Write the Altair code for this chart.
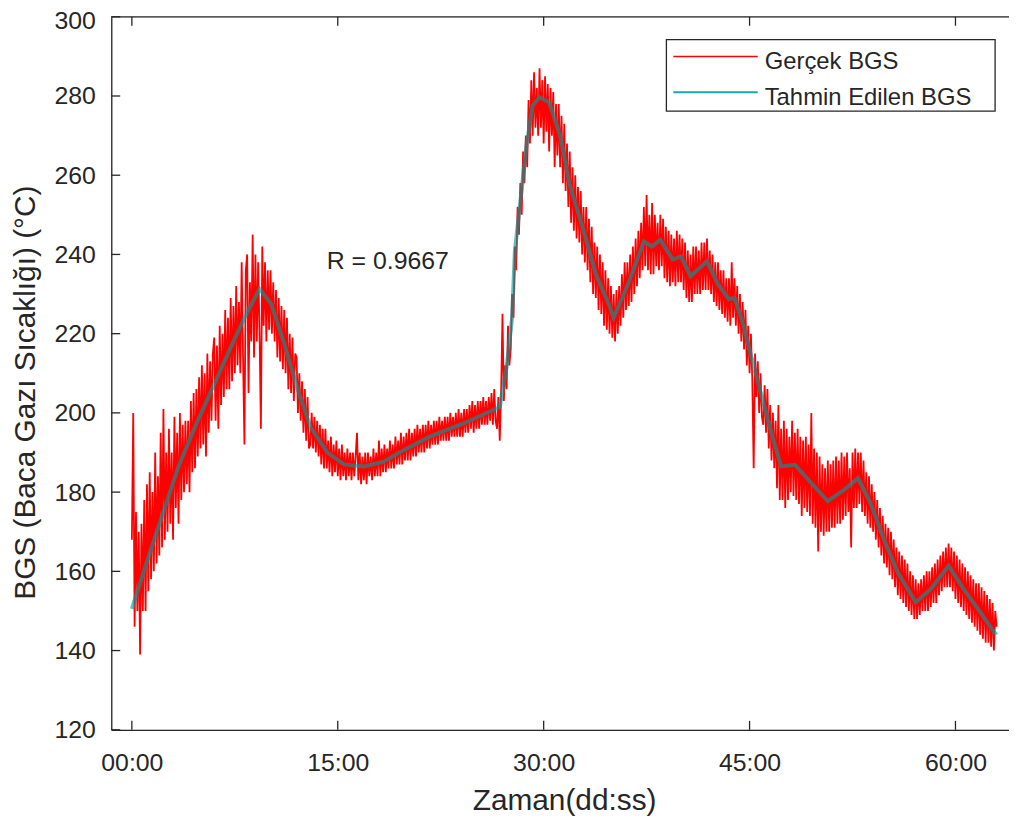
import altair as alt
import pandas as pd

# ---- data ----
# measured flue gas temperature, sampled every 0.1 min from t = 0 (one row = one minute)
GERCEK_T0 = 0.0
GERCEK_DT = 0.1
GERCEK = [
    168, 200, 146, 175, 150, 170, 139, 172, 150, 178,
    150, 182, 155, 185, 158, 180, 160, 190, 162, 184,
    164, 195, 166, 201, 168, 190, 170, 196, 172, 190,
    168, 199, 176, 195, 172, 200, 178, 197, 180, 198,
    182, 198, 180, 203, 185, 205, 186, 206, 189, 209,
    191, 212, 192, 210, 189, 215, 195, 213, 198, 215,
    219, 198, 217, 196, 222, 202, 220, 204, 226, 206,
    224, 206, 229, 208, 227, 210, 232, 212, 228, 210,
    238, 214, 192, 236, 240, 205, 233, 218, 245, 214,
    240, 218, 238, 220, 196, 242, 222, 238, 218, 236,
    221, 236, 220, 233, 218, 231, 214, 229, 213, 227,
    211, 226, 210, 224, 206, 220, 205, 219, 203, 215,
    214, 200, 210, 198, 208, 195, 206, 193, 204, 191,
    192, 200, 191, 199, 190, 198, 189, 197, 187, 196,
    186, 196, 186, 193, 185, 194, 184, 192, 185, 193,
    184, 191, 183, 192, 184, 190, 183, 191, 184, 190,
    183, 190, 184, 189, 195, 183, 190, 182, 189, 183,
    190, 182, 190, 184, 189, 183, 191, 184, 190, 184,
    193, 184, 191, 185, 192, 185, 191, 186, 193, 186,
    192, 186, 194, 187, 193, 187, 195, 187, 194, 188,
    195, 188, 196, 188, 195, 189, 196, 189, 197, 190,
    196, 190, 197, 190, 197, 191, 198, 191, 197, 192,
    198, 192, 198, 192, 199, 193, 198, 193, 199, 193,
    199, 193, 200, 194, 199, 194, 200, 194, 201, 194,
    200, 194, 201, 195, 201, 195, 202, 196, 203, 195,
    202, 196, 203, 196, 203, 197, 204, 197, 203, 197,
    204, 198, 205, 197, 206, 198, 196, 204, 193, 205,
    225, 203, 212, 206, 222, 212, 216, 230, 224, 242,
    236, 252, 245, 258, 250, 266, 258, 270, 262, 279,
    268, 284, 270, 286, 272, 282, 270, 287, 272, 284,
    268, 285, 271, 283, 266, 282, 270, 281, 262, 278,
    265, 278, 262, 275, 258, 273, 256, 268, 252, 266,
    248, 262, 246, 260, 244, 257, 243, 256, 240, 252,
    238, 252, 236, 249, 233, 247, 230, 243, 229, 242,
    226, 240, 225, 238, 222, 236, 221, 234, 220, 232,
    219, 230, 218, 231, 220, 232, 222, 235, 224, 238,
    226, 238, 227, 240, 228, 242, 230, 244, 232, 246,
    234, 248, 236, 252, 237, 255, 236, 250, 235, 253,
    235, 250, 237, 248, 236, 250, 237, 249, 234, 247,
    233, 246, 232, 245, 233, 244, 232, 246, 233, 245,
    233, 244, 231, 243, 229, 241, 228, 240, 228, 242,
    230, 242, 230, 241, 230, 243, 231, 243, 231, 244,
    231, 241, 230, 240, 228, 238, 227, 238, 226, 236,
    225, 236, 224, 234, 223, 234, 222, 238, 224, 234,
    222, 232, 220, 230, 218, 228, 216, 226, 212, 222,
    210, 220, 208, 186, 215, 204, 213, 200, 210, 199,
    197, 207, 195, 206, 191, 202, 188, 200, 186, 198,
    181, 202, 178, 196, 178, 198, 176, 196, 178, 194,
    180, 198, 179, 195, 178, 196, 177, 194, 174, 193,
    176, 194, 175, 192, 174, 200, 172, 191, 171, 190,
    165, 189, 170, 187, 169, 186, 170, 188, 170, 187,
    171, 188, 171, 189, 172, 188, 172, 190, 173, 189,
    174, 190, 175, 186, 166, 190, 176, 191, 176, 190,
    177, 190, 175, 188, 174, 185, 172, 184, 171, 182,
    170, 180, 168, 178, 166, 176, 164, 174, 162, 172,
    161, 171, 159, 170, 158, 168, 156, 166, 154, 165,
    153, 164, 152, 163, 151, 162, 150, 160, 149, 159,
    148, 158, 148, 157, 149, 158, 150, 159, 150, 160,
    150, 160, 151, 161, 152, 162, 152, 163, 154, 164,
    155, 165, 156, 166, 156, 167, 156, 166, 155, 165,
    153, 164, 152, 163, 151, 162, 150, 161, 149, 160,
    148, 159, 147, 158, 146, 157, 145, 157, 144, 156,
    143, 155, 142, 154, 142, 153, 141, 152, 140, 150,
    146,
]

# predicted flue gas temperature (minutes, degC)
TAHMIN_T = [0.0, 1.0, 2.2, 3.4, 4.6, 5.8, 7.0, 8.2, 9.3, 10.15, 11.1, 12.1,
            13.0, 14.25, 15.45, 16.9, 18.35, 19.8, 21.7, 24.2, 26.8, 27.3,
            27.7, 27.9, 28.3, 28.75, 29.2, 29.7, 30.4, 31.2, 31.9, 32.85,
            33.8, 34.8, 35.1, 36.2, 37.3, 37.9, 38.5, 39.4, 40.0, 40.7, 41.9,
            42.7, 43.5, 43.9, 44.4, 45.2, 45.9, 46.6, 47.3, 48.3, 49.5, 50.7,
            51.9, 52.9, 53.8, 54.8, 55.8, 57.1, 58.2, 59.5, 60.6, 61.8, 62.8, 63.0]
TAHMIN_V = [150.5, 161.4, 174, 186.5, 196.5, 205.7, 215, 224, 231.3, 227.5, 217.5, 205.7,
            196.5, 190, 187, 186.5, 187.7, 190.6, 194, 197.4, 201.5, 211.5,
            224, 240.8, 253.3, 267.6, 277.6, 279.7, 278.4, 270, 257.5, 246.7,
            235, 227, 224, 233, 243.3, 242, 243.7, 238.7, 239.5, 234.5, 238.3,
            232.5, 228.7, 229, 224, 213.2, 204, 194.8, 186.5, 186.9, 182.3, 177.7,
            180.6, 183.5, 177.3, 168, 159.7, 152.2, 155.5, 161.4, 155.5, 149.7, 144.7, 144]

X_TICKS = [0, 15, 30, 45, 60]
Y_TICKS = [120, 140, 160, 180, 200, 220, 240, 260, 280, 300]
LEGEND_LABELS = ["Gerçek BGS", "Tahmin Edilen BGS"]
X_TITLE = "Zaman(dd:ss)"
Y_TITLE = "BGS (Baca Gazı Sıcaklığı) (°C)"
R_TEXT = ["R = 0.9667"]
R_T = [14.2]
R_V = [236.3]

# ---- styling ----
W, H = 904, 718
FONT = "Liberation Sans"
AX = "#262626"
RED = "#ff0000"
CYAN = "#009a9a"

x_scale = alt.Scale(domain=[-1.5, 63.9], nice=False, zero=False)
y_scale = alt.Scale(domain=[120, 300], nice=False, zero=False)

gercek_df = pd.DataFrame({
    "t": [round(GERCEK_T0 + i * GERCEK_DT, 1) for i in range(len(GERCEK))],
    "v": GERCEK,
})
tahmin_df = pd.DataFrame({"t": TAHMIN_T, "v": TAHMIN_V})

x_axis = alt.Axis(
    values=X_TICKS,
    labelExpr="(datum.value < 10 ? '0' : '') + datum.value + ':00'",
    title=X_TITLE, grid=False, ticks=False,
    domainColor=AX, domainWidth=1.3,
    labelFont=FONT, labelFontSize=25, labelColor=AX, labelPadding=21,
    titleFont=FONT, titleFontSize=30, titleFontWeight="normal", titleColor=AX,
    titleX=456, titleY=80, titleBaseline="alphabetic", titleAlign="center",
)
y_axis = alt.Axis(
    values=Y_TICKS, title=Y_TITLE, grid=False, ticks=False,
    domainColor=AX, domainWidth=1.3,
    labelFont=FONT, labelFontSize=25, labelColor=AX, labelPadding=16,
    labelOffset={"condition": {"test": "datum.value == 300", "value": 4}, "value": 0},
    titleFont=FONT, titleFontSize=30, titleFontWeight="normal", titleColor=AX,
    titleX=-86, titleY=378, titleAngle=270, titleBaseline="middle", titleAlign="center",
)

gercek = alt.Chart(gercek_df).mark_line(color=RED, strokeWidth=1.8).encode(
    x=alt.X("t:Q", scale=x_scale, axis=x_axis),
    y=alt.Y("v:Q", scale=y_scale, axis=y_axis),
)
tahmin = alt.Chart(tahmin_df).mark_line(color=CYAN, opacity=0.62, strokeWidth=4).encode(
    x=alt.X("t:Q", scale=x_scale),
    y=alt.Y("v:Q", scale=y_scale),
)

xt_df = pd.DataFrame({"t": X_TICKS})
yt_df = pd.DataFrame({"v": Y_TICKS})
bottom_ticks = alt.Chart(xt_df).mark_rule(color=AX, strokeWidth=1.3).encode(
    x=alt.X("t:Q", scale=x_scale), y=alt.value(H), y2=alt.value(H - 9))
top_ticks = alt.Chart(xt_df).mark_rule(color=AX, strokeWidth=1.3).encode(
    x=alt.X("t:Q", scale=x_scale), y=alt.value(0), y2=alt.value(9))
left_ticks = alt.Chart(yt_df).mark_rule(color=AX, strokeWidth=1.3).encode(
    y=alt.Y("v:Q", scale=y_scale), x=alt.value(0), x2=alt.value(9))

one = pd.DataFrame({"k": [0]})
top_border = alt.Chart(one).mark_rule(color=AX, strokeWidth=1.3).encode(
    x=alt.value(0), x2=alt.value(W), y=alt.value(0))

r_df = pd.DataFrame({"t": R_T, "v": R_V, "s": R_TEXT})
r_text = alt.Chart(r_df).mark_text(
    align="left", baseline="alphabetic", font=FONT, fontSize=25, color=AX
).encode(x=alt.X("t:Q", scale=x_scale), y=alt.Y("v:Q", scale=y_scale), text="s:N")

# legend box (drawn by hand, top-right like the MATLAB legend)
leg_box = alt.Chart(one).mark_rect(fill="white", stroke=AX, strokeWidth=1.3).encode(
    x=alt.value(559), x2=alt.value(890), y=alt.value(23), y2=alt.value(95))
leg_red = alt.Chart(one).mark_rule(color=RED, strokeWidth=1.6).encode(
    x=alt.value(566), x2=alt.value(651), y=alt.value(40))
leg_cyan = alt.Chart(one).mark_rule(color="#1aa8b0", strokeWidth=2).encode(
    x=alt.value(566), x2=alt.value(651), y=alt.value(76))
leg_t1 = alt.Chart(one).mark_text(
    align="left", baseline="alphabetic", font=FONT, fontSize=24, color=AX,
    text=LEGEND_LABELS[0]).encode(x=alt.value(658), y=alt.value(53))
leg_t2 = alt.Chart(one).mark_text(
    align="left", baseline="alphabetic", font=FONT, fontSize=24, color=AX,
    text=LEGEND_LABELS[1]).encode(x=alt.value(658), y=alt.value(89))

chart = alt.layer(
    gercek, tahmin, bottom_ticks, top_ticks, left_ticks, top_border, r_text,
    leg_box, leg_red, leg_cyan, leg_t1, leg_t2,
).properties(
    width=W, height=H,
    autosize=alt.AutoSizeParams(type="none"),
    padding={"left": 104, "top": 6, "right": 0, "bottom": 86},
).configure_view(stroke=None).configure(background="white")

chart.save("out.html", embed_options={"renderer": "svg", "actions": False})
